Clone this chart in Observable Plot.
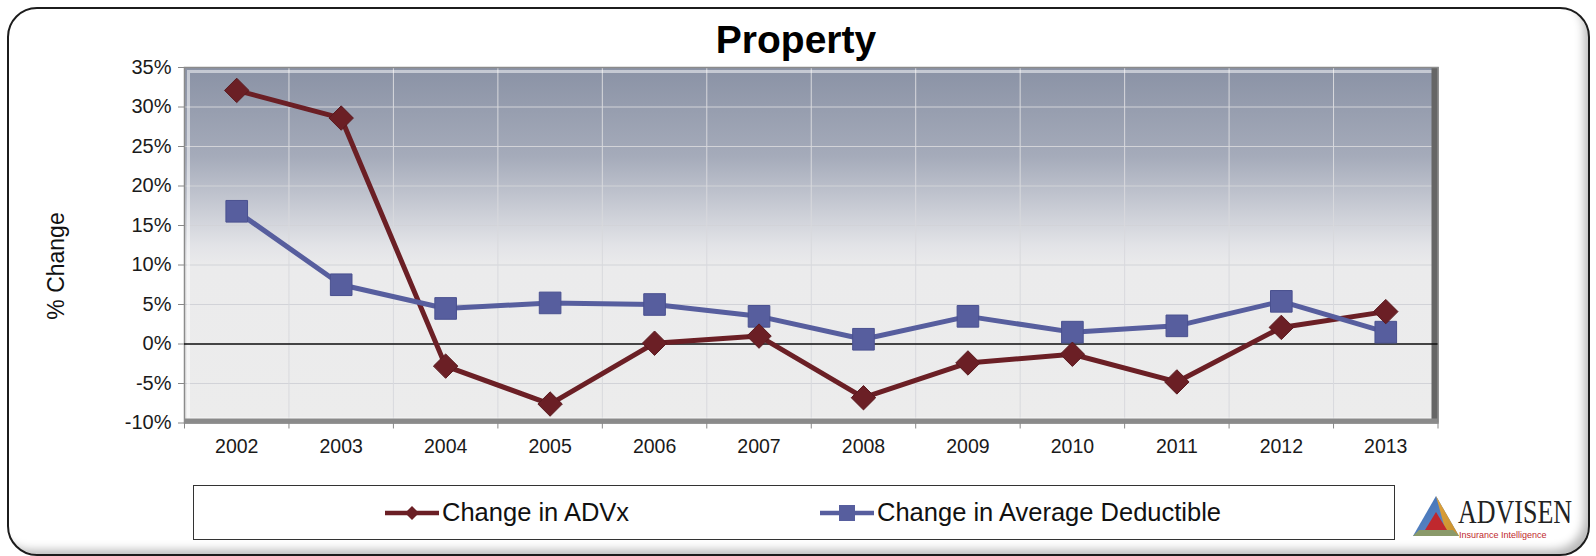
<!DOCTYPE html>
<html>
<head>
<meta charset="utf-8">
<script src="https://cdn.jsdelivr.net/npm/d3@7"></script>
<script src="https://cdn.jsdelivr.net/npm/@observablehq/plot@0.6"></script>
<style>
  html, body { margin: 0; padding: 0; background: #fff; }
  #page { position: relative; width: 1596px; height: 556px; overflow: hidden; font-family: "Liberation Sans", Arial, sans-serif; }
  #frame { position: absolute; left: 7px; top: 7px; width: 1579px; height: 545px; border: 2.5px solid #1c1c1c; border-radius: 30px;
           box-shadow: inset -8px -8px 10px -4px rgba(0,0,0,0.28); }
  #title { position: absolute; left: 0; top: 17px; width: 1592px; text-align: center; font-weight: bold; font-size: 39px; line-height: 46px; color: #000; }
  #ylabel { position: absolute; left: 56px; top: 266px; transform: translate(-50%, -50%) rotate(-90deg); font-size: 23px; color: #111; white-space: nowrap; }
  #chart { position: absolute; left: 0; top: 56px; }
  #legend { position: absolute; left: 193px; top: 485px; width: 1200px; height: 53px; border: 1.5px solid #333; background: #fff; }
  .item { position: absolute; top: 0; height: 53px; display: flex; align-items: center; font-size: 25.5px; color: #111; }
  .item svg { margin-right: 3px; }
  #logo { position: absolute; left: 1410px; top: 490px; width: 176px; height: 56px; }
</style>
</head>
<body>
<div id="page">
  <div id="frame"></div>
  <div id="title">Property</div>
  <div id="ylabel">% Change</div>
  <div id="chart"></div>
  <div id="legend"></div>
  <div id="logo">
    <svg width="176" height="56">
      <defs>
        <linearGradient id="lgL" x1="0" y1="0" x2="1" y2="1"><stop offset="0" stop-color="#3b6fb6"/><stop offset="1" stop-color="#6a8fc8"/></linearGradient>
        <linearGradient id="lgR" x1="0" y1="0" x2="1" y2="1"><stop offset="0" stop-color="#e0a23a"/><stop offset="1" stop-color="#c8902e"/></linearGradient>
      </defs>
      <polygon points="26,6 3,46 49,46" fill="url(#lgL)"/>
      <polygon points="26,6 49,46 37,46" fill="url(#lgR)"/>
      <polygon points="3,46 49,46 43,40 9,40" fill="#8a9a6a"/>
      <polygon points="26,22 15,40 37,40" fill="#c0282e"/>
      <text transform="translate(48,33) scale(1,1.3)" font-family="Liberation Serif, DejaVu Serif, serif" font-size="26" fill="#222">ADVISEN</text>
      <text x="49" y="48" font-family="Liberation Sans, Arial, sans-serif" font-size="9" fill="#c0282e">Insurance Intelligence</text>
    </svg>
  </div>
</div>
<script>
const years = [2002, 2003, 2004, 2005, 2006, 2007, 2008, 2009, 2010, 2011, 2012, 2013];
const advx = [32.1, 28.6, -2.8, -7.6, 0.1, 1.0, -6.8, -2.4, -1.3, -4.8, 2.1, 4.1];
const avgDeductible = [16.8, 7.5, 4.5, 5.2, 5.0, 3.5, 0.6, 3.5, 1.5, 2.3, 5.4, 1.5];
const yTicks = [-10, -5, 0, 5, 10, 15, 20, 25, 30, 35];
const seriesNames = ["Change in ADVx", "Change in Average Deductible"];
const seriesColors = ["#6b1f25", "#575e9e"];

const boundaries = [years[0] - 0.5, ...years.map(y => y + 0.5)];
const dataA = years.map((y, i) => ({year: y, value: advx[i]}));
const dataB = years.map((y, i) => ({year: y, value: avgDeductible[i]}));

const chart = Plot.plot({
  width: 1596,
  height: 420,
  marginTop: 11,
  marginBottom: 53.5,
  marginLeft: 184,
  marginRight: 158.5,
  style: {fontFamily: "Liberation Sans, Arial, sans-serif", fontSize: "19.5px", color: "#1a1a1a", background: "transparent"},
  x: {domain: [boundaries[0], boundaries[boundaries.length - 1]]},
  y: {domain: [yTicks[0], yTicks[yTicks.length - 1]]},
  marks: [
    Plot.frame({fill: "url(#bgGrad)"}),
    Plot.gridY(yTicks, {stroke: "#d2d3d8", strokeOpacity: 1, strokeWidth: 1.2}),
    Plot.gridX(boundaries, {stroke: "#d8d9dd", strokeOpacity: 1, strokeWidth: 1}),
    Plot.frame({stroke: "#fff", strokeOpacity: 0.5, strokeWidth: 3, inset: 4}),
    Plot.ruleX([boundaries[boundaries.length - 1]], {stroke: "#666", strokeWidth: 7, dx: -3}),
    Plot.ruleY([yTicks[0]], {stroke: "#8a8a8a", strokeWidth: 5, dy: -2}),
    Plot.frame({stroke: "#8b8b8b", strokeWidth: 1.5}),
    Plot.ruleY([0], {stroke: "#111", strokeWidth: 1.3}),
    Plot.axisY(yTicks, {tickFormat: d => d + "%", tickSize: 6, tickPadding: 7, label: null, fontSize: 20, stroke: "#888"}),
    Plot.axisX(boundaries, {tickFormat: () => "", tickSize: 6, label: null, stroke: "#888"}),
    Plot.axisX(years, {tickFormat: d => String(d), tickSize: 0, tickPadding: 16, label: null, fontSize: 19.5}),
    Plot.line(dataA, {x: "year", y: "value", stroke: seriesColors[0], strokeWidth: 5}),
    Plot.line(dataB, {x: "year", y: "value", stroke: seriesColors[1], strokeWidth: 5}),
    Plot.dot(dataB, {x: "year", y: "value", symbol: "square", r: 12.2, fill: seriesColors[1], stroke: "#4a5190", strokeWidth: 1}),
    Plot.dot(dataA, {x: "year", y: "value", symbol: "diamond2", r: 11, fill: seriesColors[0], stroke: "#5a1a1f", strokeWidth: 1})
  ]
});

const svg = d3.select(chart);
const defs = svg.insert("defs", ":first-child");
const g = defs.append("linearGradient").attr("id", "bgGrad").attr("x1", 0).attr("y1", 0).attr("x2", 0).attr("y2", 1);
g.append("stop").attr("offset", "0").attr("stop-color", "#8a92a5");
g.append("stop").attr("offset", "0.25").attr("stop-color", "#a5abba");
g.append("stop").attr("offset", "0.5").attr("stop-color", "#e2e3e7");
g.append("stop").attr("offset", "0.56").attr("stop-color", "#ebebec");
g.append("stop").attr("offset", "1").attr("stop-color", "#ececec");
document.getElementById("chart").appendChild(chart);

// Legend
const legend = document.getElementById("legend");
const lefts = [191, 626];
seriesNames.forEach((name, i) => {
  const item = document.createElement("div");
  item.className = "item";
  item.style.left = lefts[i] + "px";
  const sym = i === 0
    ? `<polygon points="27,9 34,16 27,23 20,16" fill="${seriesColors[0]}"/>`
    : `<rect x="19" y="8" width="16" height="16" fill="${seriesColors[1]}"/>`;
  item.innerHTML = `<svg width="54" height="32"><line x1="0" x2="54" y1="16" y2="16" stroke="${seriesColors[i]}" stroke-width="4.5"/>${sym}</svg><span>${name}</span>`;
  legend.appendChild(item);
});
</script>
</body>
</html>
